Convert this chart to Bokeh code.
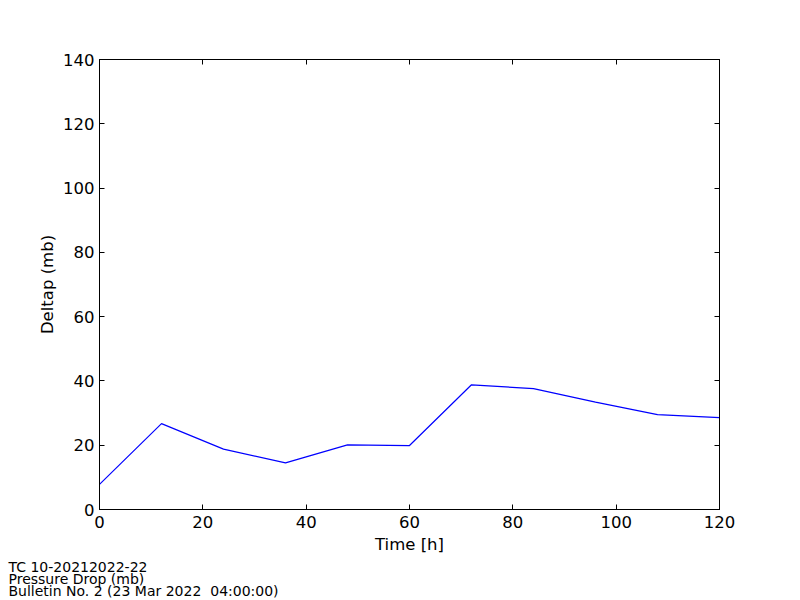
from bokeh.plotting import figure
from bokeh.models import LinearAxis, Range1d, Title, FixedTicker
from bokeh.embed import file_html
from bokeh.resources import INLINE

# Data
time_h = [0, 12, 24, 36, 48, 60, 72, 84, 96, 108, 120]
deltap = [7.8, 26.7, 18.8, 14.5, 20.1, 19.9, 38.8, 37.6, 33.4, 29.5, 28.6]
x_ticks = [0, 20, 40, 60, 80, 100, 120]
y_ticks = [0, 20, 40, 60, 80, 100, 120, 140]
footer_lines = ["TC 10-20212022-22", "Pressure Drop (mb)", "Bulletin No. 2 (23 Mar 2022 \u00a004:00:00)"]

FONT = "DejaVu Sans"

p = figure(width=800, height=600,
           min_border_left=99, min_border_right=81,
           min_border_top=59, min_border_bottom=91,
           x_range=Range1d(0, 120), y_range=Range1d(0, 140),
           output_backend="svg", toolbar_location=None,
           x_axis_label="Time [h]", y_axis_label="Deltap (mb)")

p.background_fill_color = "white"
p.border_fill_color = "white"
p.outline_line_color = "black"
p.outline_line_width = 1
p.grid.visible = False

p.line(time_h, deltap, line_color="#0000ff", line_width=1.2)

def style_axis(ax, ticks, labels=True):
    ax.ticker = FixedTicker(ticks=ticks)
    ax.major_tick_in = 5
    ax.major_tick_out = 0
    ax.minor_tick_in = 0
    ax.minor_tick_out = 0
    ax.axis_line_color = "black"
    ax.major_tick_line_color = "black"
    ax.major_label_text_font = FONT
    ax.major_label_text_font_size = "16.5px"
    ax.major_label_text_color = "black"
    ax.axis_label_text_font = FONT
    ax.axis_label_text_font_size = "16.5px"
    ax.axis_label_text_font_style = "normal"
    ax.axis_label_text_color = "black"
    if not labels:
        ax.major_label_text_color = None
        ax.major_label_standoff = 0

for ax in p.xaxis:
    style_axis(ax, x_ticks)
    ax.major_label_standoff = 6
    ax.axis_label_standoff = 4
for ax in p.yaxis:
    style_axis(ax, y_ticks)
    ax.major_label_standoff = 5
    ax.axis_label_standoff = 3

top_ax = LinearAxis()
style_axis(top_ax, x_ticks, labels=False)
p.add_layout(top_ax, "above")
right_ax = LinearAxis()
style_axis(right_ax, y_ticks, labels=False)
p.add_layout(right_ax, "right")

p.add_layout(Title(text="\n".join(footer_lines), align="left", offset=-91, standoff=0,
                   text_font=FONT, text_font_size="14px", text_font_style="normal",
                   text_color="black", text_line_height=0.75,
                   vertical_align="bottom"), "below")

open("out.html", "w").write(file_html(p, INLINE))
